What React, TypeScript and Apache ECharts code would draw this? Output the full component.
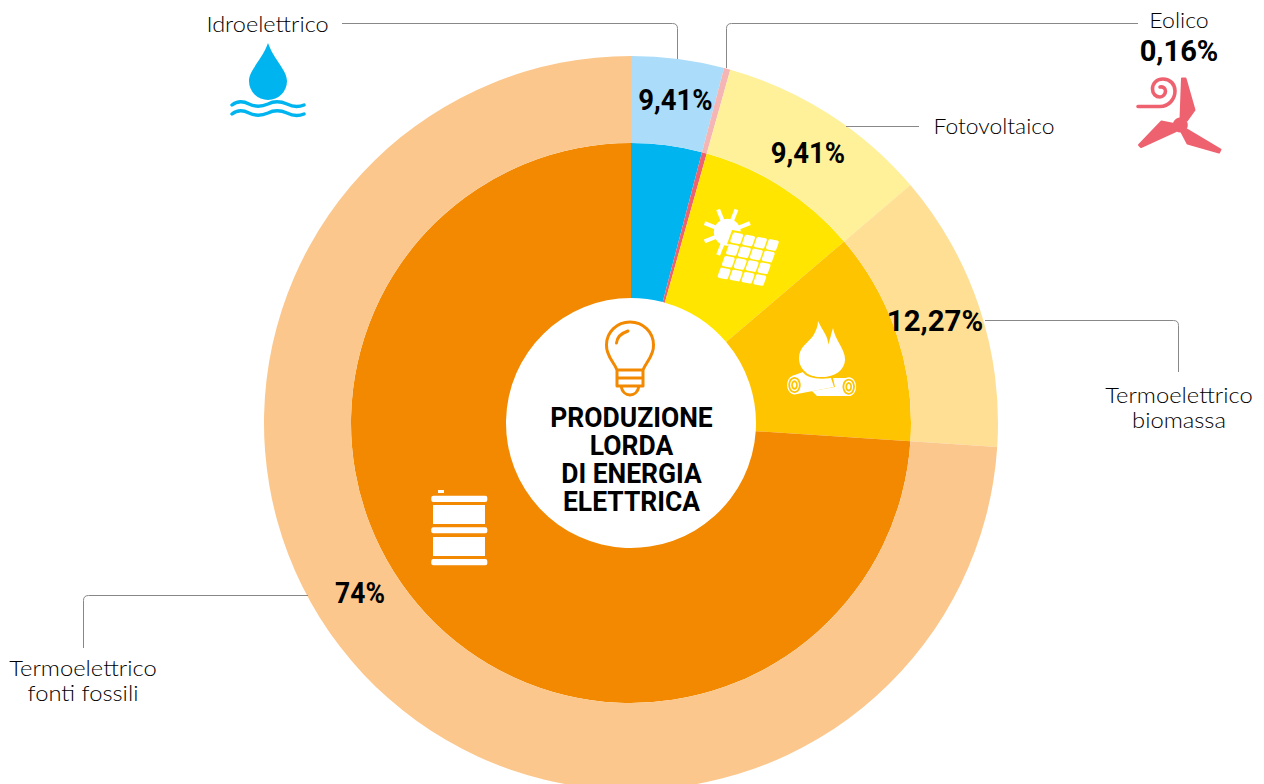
import React, { useEffect, useRef } from "react";
import * as echarts from "echarts";

const categories = ["Idroelettrico", "Eolico", "Fotovoltaico", "Termoelettrico biomassa", "Termoelettrico fonti fossili"];
const sliceValues = [4.08, 0.28, 9.41, 12.27, 73.96];
const innerColors = ["#00b5ef", "#ee6270", "#ffe500", "#fec400", "#f28900"];
const outerColors = ["#abdcf9", "#f6b5b5", "#fff09a", "#fedf94", "#fbc78c"];
const valueLabels = ["9,41%", "0,16%", "9,41%", "12,27%", "74%"];
const centerTitle = ["PRODUZIONE", "LORDA", "DI ENERGIA", "ELETTRICA"];

const LIGHT = "Lato";
const BOLD = "Roboto";
const LINE = "#888888";

const SHAPES: Record<string, string> = {
  leadIdro: "M342 23.5 L672.5 23.5 Q677.5 23.5 677.5 28.5 L677.5 59",
  leadEolico: "M726.5 68 L726.5 28.5 Q726.5 23.5 731.5 23.5 L1138 23.5",
  leadFoto: "M846 126.5 L919 126.5",
  leadBio: "M985 320.5 L1173.5 320.5 Q1178.5 320.5 1178.5 325.5 L1178.5 372",
  leadFossil: "M308 595.5 L88.5 595.5 Q83.5 595.5 83.5 600.5 L83.5 648",
  drop: "M268 43 C262 60 249 70 249 81 A18.8 18.8 0 0 0 287 81 C287 70 274 60 268 43 Z",
  waves:
    "M232 105 C237 101 243 101 249 104 C255 107 261 107 268 104 C274 101 280 101 287 104 C293 107 299 107 304 105 M232 114 C237 110 243 110 249 113 C255 116 261 116 268 113 C274 110 280 110 287 113 C293 116 299 116 304 114",
  blades:
    "M1182 78.5 L1185.5 78.5 L1194.5 110 L1187 120.5 L1180.5 119 Z M1139 145 L1161.5 121.5 L1174 124 L1176 131 L1141 147 Z M1220.5 149.5 L1187 129.5 L1181.5 132 L1187.5 143.5 L1219 152.5 Z",
  spiral:
    "M1138 106.5 L1160 106.5 C1169 106.5 1175 99 1175 91 C1175 84 1170 79 1163 79 C1157 79 1152.5 83 1152.5 89 C1152.5 94 1156 97 1160 97 C1163 97 1165.5 94 1165.5 91 C1165.5 88 1163 86.5 1160 87",
  flame:
    "M818 321 C822 330 829 337 828 345 C830 340 831 334 833 328 C835 340 845 349 845 359 C845 370 835 377 822 377 C809 377 799 370 799 358 C799 347 808 343 813 336 C816 331 818 326 818 321 Z",
  flameGap: "M803 371 C809 380 835 380 842 371",
  logLeft: "M792 376 L803 372 L831 378 L834 387 L797 394 Z",
  logRight: "M833 378 L848 378 L850 396 L817 396 L812 391 L835 387 Z",
  bulb:
    "M617 370 C614 362 606 356 606.5 345 C606.5 332 617 322 630 322 C643 322 653.5 332 653.5 345 C654 356 646 362 643 370 M617 370 L643 370 L643 386 L617 386 Z M617 378 L643 378 M621 386 C622 392 626 395 630 395 C634 395 638 392 639 386 M616.5 343 C617 337 622 333 628 331",
};
Object.keys(SHAPES).forEach((k) => {
  echarts.graphic.registerShape(k, echarts.graphic.extendPath(SHAPES[k], {}));
});

const lead = (type: string) => ({ type, x: 0, y: 0, z: 10, silent: true, style: { fill: "none", stroke: LINE, lineWidth: 1 } });
const filled = (type: string, fill: string, stroke = "none", lineWidth = 0) => ({
  type, x: 0, y: 0, z: 11, silent: true, style: { fill, stroke, lineWidth, lineJoin: "round" },
});
const stroked = (type: string, stroke: string, lineWidth: number) => ({
  type, x: 0, y: 0, z: 11, silent: true, style: { fill: "none", stroke, lineWidth, lineCap: "round", lineJoin: "round" },
});
const txt = (text: string, x: number, y: number, size: number, bold: boolean, scaleX = 1) => ({
  type: "text", x, y, scaleX, z: 12, silent: true,
  style: {
    text, fill: "#000000", fontFamily: bold ? BOLD : LIGHT,
    fontWeight: bold ? 700 : 300, fontSize: size, textAlign: "center", textVerticalAlign: "middle",
  },
});
const rect = (x: number, y: number, w: number, h: number, r = 0) => ({
  type: "rect", z: 11, silent: true, shape: { x, y, width: w, height: h, r }, style: { fill: "#ffffff" },
});
const ell = (cx: number, cy: number, rx: number, ry: number, fill: string) => ({
  type: "ellipse", z: 11, silent: true, shape: { cx, cy, rx, ry }, style: { fill },
});

function solarIcon() {
  const out: any[] = [];
  const cx = 727.3, cy = 232.3;
  out.push({ type: "circle", z: 11, silent: true, shape: { cx, cy, r: 13.5 }, style: { fill: "#fff" } });
  [22, 68, 112, 158, 202, 248].forEach((deg) => {
    const a = (deg * Math.PI) / 180;
    out.push({
      type: "line", z: 11, silent: true,
      shape: { x1: cx + 13 * Math.cos(a), y1: cy - 13 * Math.sin(a), x2: cx + 24.5 * Math.cos(a), y2: cy - 24.5 * Math.sin(a) },
      style: { stroke: "#fff", lineWidth: 4 },
    });
  });
  const ox = 736.7, oy = 238.3, ux = 11.9, uy = 2.2, vx = -4.2, vy = 11.7;
  const corner = (i: number, j: number) => [ox + i * ux + j * vx, oy + i * uy + j * vy];
  const k = 0.29;
  out.push({
    type: "polygon", z: 11, silent: true,
    shape: { points: [corner(-0.6, -0.6), corner(0.6, -0.6), corner(0.6, 0.6), corner(-0.6, 0.6)] },
    style: { fill: "#ffe500" },
  });
  for (let i = 0; i < 4; i++) {
    for (let j = 0; j < 4; j++) {
      out.push({
        type: "polygon", z: 11, silent: true,
        shape: { points: [corner(i - k, j - k), corner(i + k, j - k), corner(i + k, j + k), corner(i - k, j + k)] },
        style: { fill: "#fff", stroke: "#fff", lineWidth: 3.5, lineJoin: "round" },
      });
    }
  }
  return out;
}

function logEnd(cx: number, cy: number) {
  return [
    ell(cx, cy, 7.4, 9.4, "#ffffff"),
    ell(cx, cy, 6.2, 8, "#fec400"),
    ell(cx, cy, 4.4, 6.2, "#ffffff"),
    ell(cx, cy, 3.3, 4.8, "#fec400"),
    ell(cx, cy, 1.6, 2.8, "#ffffff"),
  ];
}

export default function App() {
  const ref = useRef<HTMLDivElement>(null);
  useEffect(() => {
    const chart = echarts.init(ref.current!, undefined, { renderer: "svg" });
    const toData = (colors: string[]) =>
      categories.map((name, i) => ({ name, value: sliceValues[i], itemStyle: { color: colors[i] } }));
    const pie = (radius: number[], colors: string[]) => ({
      type: "pie", center: [631, 423], radius, startAngle: 90, clockwise: true, sort: "none" as any,
      silent: true, z: 1, label: { show: false }, labelLine: { show: false }, minAngle: 0, avoidLabelOverlap: false,
      data: toData(colors),
    });
    chart.setOption({
      animation: false,
      backgroundColor: "#ffffff",
      series: [pie([125, 280], innerColors), pie([280, 367], outerColors)],
      graphic: {
        elements: [
          lead("leadIdro"), lead("leadEolico"), lead("leadFoto"), lead("leadBio"), lead("leadFossil"),
          filled("drop", "#00b5ef"),
          stroked("waves", "#00b5ef", 3.4),
          filled("blades", "#ee6270", "#ee6270", 2),
          { type: "circle", z: 11, silent: true, shape: { cx: 1180.3, cy: 125, r: 7.5 }, style: { fill: "#ee6270" } },
          stroked("spiral", "#ee6270", 3.6),
          ...solarIcon(),
          filled("logRight", "#ffffff"),
          filled("logLeft", "#ffffff"),
          ...logEnd(794.5, 385),
          ...logEnd(848.7, 386.7),
          stroked("flameGap", "#fec400", 2),
          filled("flame", "#ffffff"),
          rect(438, 490, 6, 3),
          rect(431.3, 495.7, 56, 6.3, 2),
          rect(433, 505, 52, 19),
          rect(431.3, 527.3, 56, 6, 2),
          rect(433, 537, 52, 19),
          rect(431.3, 559, 56, 6.3, 2),
          stroked("bulb", "#f28900", 3),
          txt(categories[0], 267.5, 24, 22, false, 1.07),
          txt(categories[1], 1179, 20, 22, false, 1.05),
          txt(categories[2], 994, 126, 22, false, 1.04),
          txt("Termoelettrico", 1179, 394, 22, false, 1.08),
          txt("biomassa", 1179, 419, 22, false, 1.08),
          txt("Termoelettrico", 83, 667, 22, false, 1.08),
          txt("fonti fossili", 83, 692, 22, false, 1.08),
          txt(valueLabels[0], 675.5, 100, 30, true, 0.915),
          txt(valueLabels[1], 1179, 51, 30, true, 0.97),
          txt(valueLabels[2], 808, 153, 30, true, 0.915),
          txt(valueLabels[3], 935, 320, 30, true, 0.98),
          txt(valueLabels[4], 360, 593, 30, true, 0.88),
          ...centerTitle.map((t, i) => txt(t, 631.5, 418 + i * 28, 27, true, 0.98)),
        ],
      },
    });
    return () => chart.dispose();
  }, []);
  return <div ref={ref} style={{ position: "absolute", left: 0, top: 0, width: 1264, height: 784 }} />;
}
